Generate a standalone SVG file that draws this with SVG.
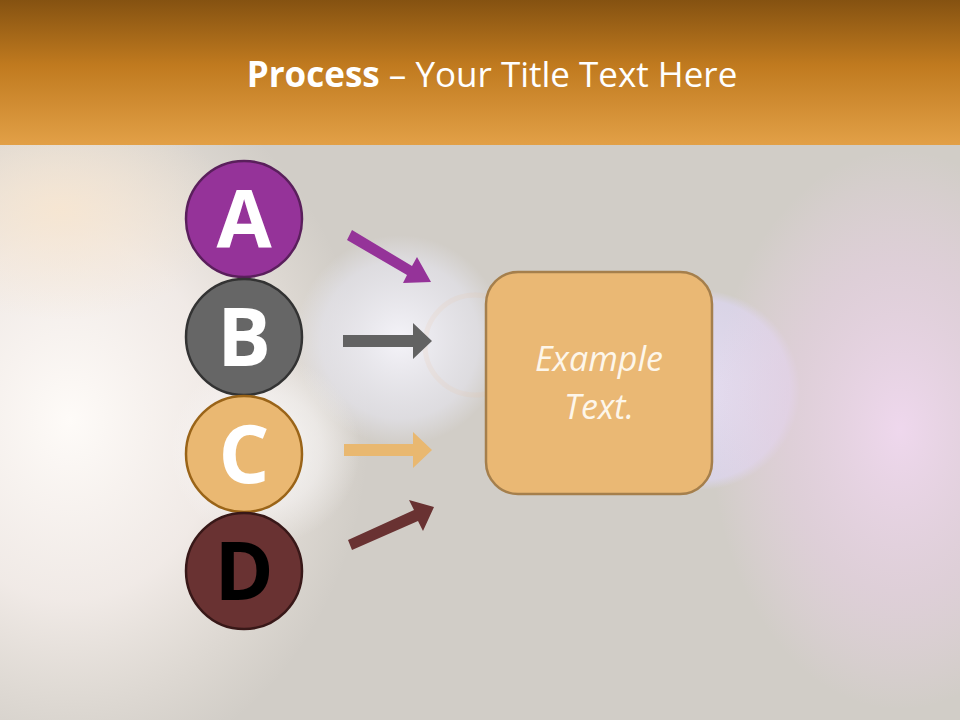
<svg xmlns="http://www.w3.org/2000/svg" width="960" height="720" viewBox="0 0 960 720">
<defs>
<linearGradient id="hdr" x1="0" y1="0" x2="0" y2="1">
<stop offset="0" stop-color="#855211"/>
<stop offset="0.45" stop-color="#c07a1f"/>
<stop offset="1" stop-color="#e2a047"/>
</linearGradient>
<radialGradient id="gl1" cx="0.5" cy="0.5" r="0.5">
<stop offset="0" stop-color="#fefbf8" stop-opacity="1"/>
<stop offset="0.5" stop-color="#f8f1ee" stop-opacity="0.8"/>
<stop offset="1" stop-color="#f3ece4" stop-opacity="0"/>
</radialGradient>
<radialGradient id="gl2" cx="0.5" cy="0.5" r="0.5">
<stop offset="0" stop-color="#f6f5fb" stop-opacity="0.95"/>
<stop offset="0.75" stop-color="#e6e6f0" stop-opacity="0.6"/>
<stop offset="1" stop-color="#e6e6f0" stop-opacity="0"/>
</radialGradient>
<radialGradient id="gl3" cx="0.5" cy="0.5" r="0.5">
<stop offset="0" stop-color="#e6def4" stop-opacity="0.9"/>
<stop offset="0.9" stop-color="#dcd6f0" stop-opacity="0.75"/>
<stop offset="1" stop-color="#dcd6f0" stop-opacity="0"/>
</radialGradient>
<radialGradient id="gl4" cx="0.5" cy="0.5" r="0.5">
<stop offset="0" stop-color="#f0d8ef" stop-opacity="0.95"/>
<stop offset="0.6" stop-color="#e6d0e2" stop-opacity="0.6"/>
<stop offset="1" stop-color="#ecd4e8" stop-opacity="0"/>
</radialGradient>
<radialGradient id="gl5" cx="0.5" cy="0.5" r="0.5">
<stop offset="0" stop-color="#f8e6d0" stop-opacity="0.85"/>
<stop offset="1" stop-color="#f6e6d2" stop-opacity="0"/>
</radialGradient>
<radialGradient id="gl6" cx="0.5" cy="0.5" r="0.5">
<stop offset="0" stop-color="#ffffff" stop-opacity="0.8"/>
<stop offset="0.6" stop-color="#f8f6f6" stop-opacity="0.55"/>
<stop offset="1" stop-color="#f8f6f6" stop-opacity="0"/>
</radialGradient>
<style>
.ttl{font-family:"Open Sans","Liberation Sans",sans-serif;fill:#ffffff;font-size:35px}
.let{font-family:"Open Sans","Liberation Sans",sans-serif;font-weight:bold;font-size:80px;text-anchor:middle}
.bx{font-family:"Open Sans","Liberation Sans",sans-serif;font-style:italic;font-size:34px;fill:#fdf6ea;text-anchor:middle}
</style>
</defs>
<rect x="0" y="0" width="960" height="720" fill="#d1cdc7"/>
<g id="background">
<ellipse cx="70" cy="420" rx="300" ry="360" fill="url(#gl1)"/>
<ellipse cx="60" cy="210" rx="170" ry="110" fill="url(#gl5)"/>
<circle cx="400" cy="340" r="105" fill="url(#gl2)"/>
<circle cx="265" cy="450" r="95" fill="url(#gl6)"/>
<circle cx="700" cy="390" r="100" fill="url(#gl3)"/>
<ellipse cx="900" cy="430" rx="190" ry="280" fill="url(#gl4)"/>
<circle cx="475" cy="345" r="50" fill="none" stroke="#e8c2a0" stroke-opacity="0.15" stroke-width="5"/>
</g>
<g id="header">
<rect x="0" y="0" width="960" height="145" fill="url(#hdr)"/>
<text class="ttl" x="492" y="87" text-anchor="middle"><tspan font-weight="bold">Process</tspan> – Your Title Text Here</text>
</g>
<g id="connectors">
<polygon points="347,240 352,230 412,266 417,257 431,282 403,283 407,275" fill="#953399"/>
<polygon points="343,335 413,335 413,323 432,341 413,359 413,347 343,347" fill="#626262"/>
<polygon points="344,444 413,444 413,432 432,450 413,468 413,456 344,456" fill="#e9b870"/>
<polygon points="348,540 352,550 418,521 423,531 434,507 409,500 414,510" fill="#693232"/>
</g>
<g id="node-a">
<circle cx="244" cy="219" r="58" fill="#953399" stroke="#5a1f5c" stroke-width="2.5"/>
<text class="let" x="244" y="248" fill="#ffffff">A</text>
</g>
<g id="node-b">
<circle cx="244" cy="337" r="58" fill="#666666" stroke="#333333" stroke-width="2.5"/>
<text class="let" x="244" y="366" fill="#ffffff">B</text>
</g>
<g id="node-c">
<circle cx="244" cy="454" r="58" fill="#eab872" stroke="#9a6418" stroke-width="2.5"/>
<text class="let" x="244" y="483" fill="#ffffff">C</text>
</g>
<g id="node-d">
<circle cx="244" cy="571" r="58" fill="#693232" stroke="#381818" stroke-width="2.5"/>
<text class="let" x="244" y="600" fill="#000000">D</text>
</g>
<g id="node-box">
<rect x="486" y="272" width="226" height="222" rx="32" fill="#eab874" stroke="#a57f4c" stroke-width="2.5"/>
<text class="bx" x="599" y="371">Example</text>
<text class="bx" x="599" y="419">Text.</text>
</g>
</svg>
